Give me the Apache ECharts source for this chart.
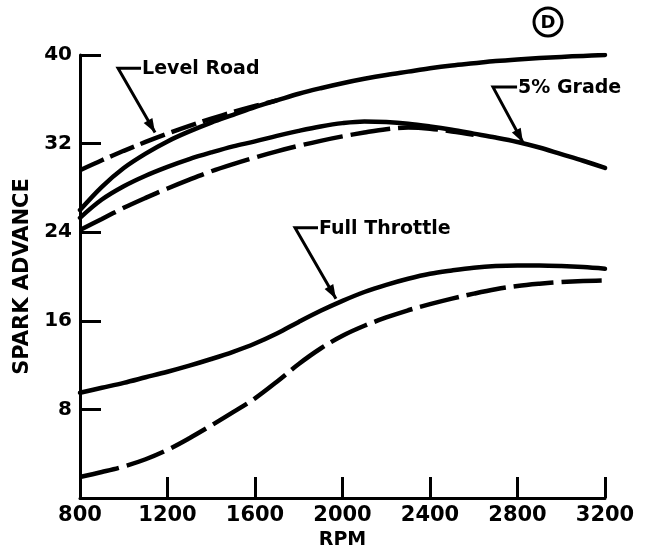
<!DOCTYPE html>
<html><head><meta charset="utf-8">
<script src="https://cdn.jsdelivr.net/npm/echarts@6/dist/echarts.min.js"></script>
<style>html,body{margin:0;padding:0;background:#fff}#c{width:647px;height:552px}</style>
</head><body><div id="c"></div>
<script>
const rpm = [800,900,1000,1100,1200,1300,1400,1500,1600,1700,1800,1900,2000,2100,2200,2300,2400,2500,2600,2700,2800,2900,3000,3100,3200];
const levelRoadSolid = [26.0,28.1,29.8,31.1,32.2,33.1,33.9,34.6,35.3,35.9,36.5,37.0,37.45,37.85,38.2,38.5,38.8,39.05,39.25,39.45,39.6,39.72,39.83,39.92,40.0];
const levelRoadDashed = [29.6,30.5,31.35,32.15,32.9,33.6,34.25,34.85,35.4,35.9,null,null,null,null,null,null,null,null,null,null,null,null,null,null,null];
const grade5Solid = [25.3,26.95,28.15,29.1,29.9,30.6,31.2,31.75,32.2,32.7,33.15,33.55,33.85,34.0,33.95,33.8,33.55,33.25,32.9,32.55,32.15,31.65,31.05,30.45,29.8];
const grade5Dashed = [24.2,25.2,26.2,27.1,27.95,28.75,29.5,30.15,30.75,31.3,31.8,32.25,32.65,33.0,33.3,33.45,33.35,33.1,32.8,null,null,null,null,null,null];
const fullThrottleSolid = [9.5,9.95,10.4,10.9,11.4,11.95,12.55,13.2,13.95,14.85,15.9,16.9,17.8,18.6,19.25,19.8,20.25,20.55,20.8,20.95,21.0,21.0,20.95,20.85,20.7];
const fullThrottleDashed = [1.9,2.35,2.85,3.5,4.35,5.4,6.55,7.75,9.0,10.5,12.1,13.5,14.65,15.55,16.3,16.95,17.5,18.0,18.45,18.85,19.15,19.35,19.5,19.6,19.65];
const xTicks = [800,1200,1600,2000,2400,2800,3200];
const yTicks = [8,16,24,32,40];

// annotation anchors in data space: label, corner, stub end, arrow tip
const notes = [
  {text:'Level Road',  corner:[974,38.8],  stub:[1079,38.8], tip:[1143,33.0]},
  {text:'5% Grade',    corner:[2688,37.1], stub:[2798,37.1], tip:[2825,32.1]},
  {text:'Full Throttle', corner:[1783,24.4], stub:[1888,24.4], tip:[1970,18.0]}
];

const pair = a => rpm.map((x,i)=>[x,a[i]]);
const FONT = 'DejaVu Sans';
const chart = echarts.init(document.getElementById('c'), null, {renderer:'canvas'});
const solid = {color:'#000', width:4.5, type:'solid', cap:'round'};
const dashLong = {color:'#000', width:4.5, type:[40,8], cap:'butt'};
const dashShort = {color:'#000', width:4.5, type:[26,7], cap:'butt'};
function ser(name, data, ls){
  return {name, type:'line', data:pair(data), smooth:0.35, showSymbol:false, symbol:'none',
    lineStyle:ls, connectNulls:false, animation:false, z:3};
}
chart.setOption({
  animation:false,
  backgroundColor:'#fff',
  grid:{left:80, right:42, top:55, bottom:54, containLabel:false, outerBoundsMode:'none'},
  xAxis:{type:'value', min:800, max:3200, interval:400,
    name:'RPM', nameLocation:'middle', nameGap:33,
    nameTextStyle:{fontFamily:FONT, fontWeight:'bold', fontSize:19, color:'#000'},
    axisLine:{show:true, lineStyle:{color:'#000', width:3}},
    axisTick:{show:true, inside:true, length:21, lineStyle:{color:'#000', width:3}},
    axisLabel:{show:true, margin:7, fontFamily:FONT, fontWeight:'bold', fontSize:21, color:'#000',
      formatter:v=>xTicks.includes(v)?String(v):''},
    splitLine:{show:false}},
  yAxis:{type:'value', min:0, max:40, interval:8,
    name:'SPARK ADVANCE', nameLocation:'middle', nameGap:44,
    nameTextStyle:{fontFamily:FONT, fontWeight:'bold', fontSize:21, color:'#000'},
    axisLine:{show:true, lineStyle:{color:'#000', width:3}},
    axisTick:{show:true, inside:true, length:21, lineStyle:{color:'#000', width:3}},
    axisLabel:{show:true, margin:8, fontFamily:FONT, fontWeight:'bold', fontSize:20, color:'#000',
      formatter:v=>yTicks.includes(v)?String(v):''},
    splitLine:{show:false}},
  series:[
    ser('Level Road', levelRoadSolid, solid),
    ser('Level Road dashed', levelRoadDashed, dashShort),
    ser('5% Grade', grade5Solid, solid),
    ser('5% Grade dashed', grade5Dashed, dashLong),
    ser('Full Throttle', fullThrottleSolid, solid),
    ser('Full Throttle dashed', fullThrottleDashed, dashLong)
  ]
});

const px = p => chart.convertToPixel({gridIndex:0}, p);
const g = [];
notes.forEach(n=>{
  const c = px(n.corner), s = px(n.stub), t = px(n.tip);
  g.push({type:'polyline', shape:{points:[s,c,t]}, style:{stroke:'#000', lineWidth:3, fill:null}, z:10});
  const dx=t[0]-c[0], dy=t[1]-c[1], L=Math.hypot(dx,dy), ux=dx/L, uy=dy/L;
  const bx=t[0]-ux*14, by=t[1]-uy*14, w=5;
  g.push({type:'polygon', shape:{points:[t,[bx-uy*w,by+ux*w],[bx+uy*w,by-ux*w]]}, style:{fill:'#000'}, z:10});
  g.push({type:'text', x:s[0]+1, y:s[1]+1, style:{text:n.text, fontFamily:FONT, fontWeight:'bold', fontSize:19, fill:'#000', verticalAlign:'middle', align:'left'}, z:10});
});
g.push({type:'circle', shape:{cx:548, cy:22, r:14}, style:{stroke:'#000', lineWidth:3, fill:null}, z:10});
g.push({type:'text', x:548, y:23, style:{text:'D', fontFamily:FONT, fontWeight:'bold', fontSize:18, fill:'#000', align:'center', verticalAlign:'middle'}, z:10});
chart.setOption({graphic:g});
</script></body></html>
